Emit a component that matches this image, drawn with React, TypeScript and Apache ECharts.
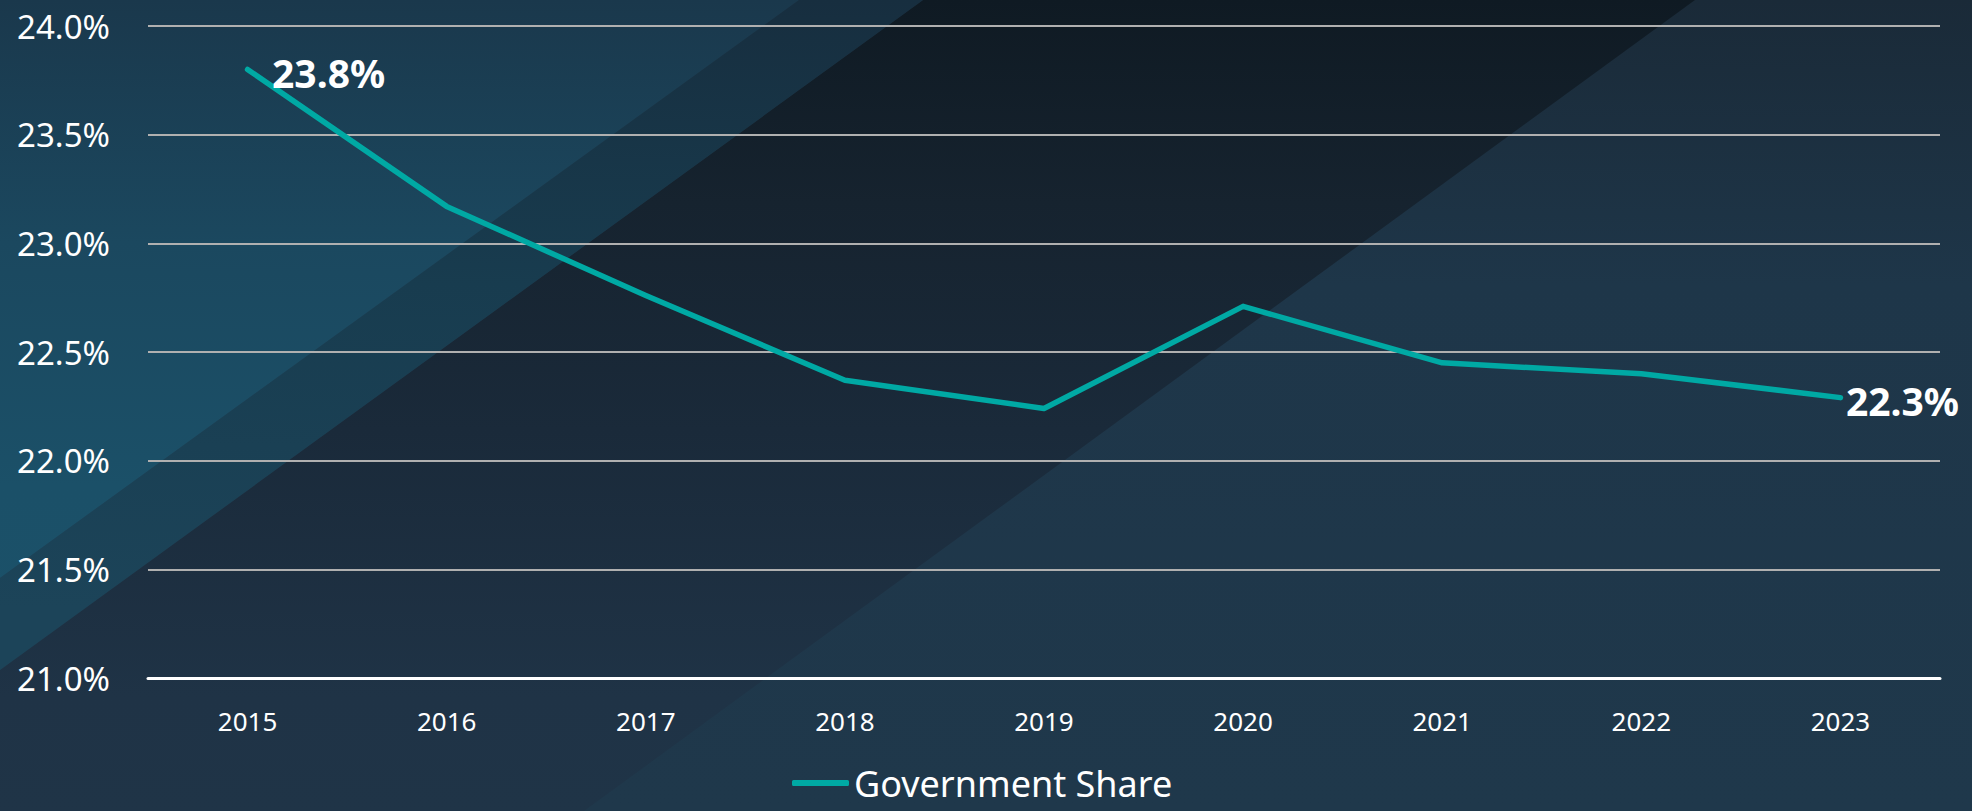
import React, { useEffect, useRef } from "react";
import * as echarts from "echarts";

const categories = ["2015", "2016", "2017", "2018", "2019", "2020", "2021", "2022", "2023"];
const governmentShare = [23.8, 23.17, 22.76, 22.37, 22.24, 22.71, 22.45, 22.4, 22.29];
const seriesName = "Government Share";
const yMin = 21.0;
const yMax = 24.0;
const yInterval = 0.5;

const W = 1972;
const H = 811;
const FONT = "'Noto Sans', 'Open Sans', sans-serif";

function vgrad(stops: [number, string][]) {
  return {
    type: "linear",
    x: 0,
    y: 0,
    x2: 0,
    y2: H,
    global: true,
    colorStops: stops.map(([offset, color]) => ({ offset, color })),
  };
}

export default function App() {
  const ref = useRef<HTMLDivElement>(null);

  useEffect(() => {
    document.body.style.margin = "0";
    const chart = echarts.init(ref.current!, undefined, { renderer: "svg" });
    const last = governmentShare.length - 1;

    const option: any = {
      animation: false,
      backgroundColor: "transparent",
      graphic: {
        elements: [
          {
            type: "rect",
            z: -10,
            silent: true,
            shape: { x: 0, y: 0, width: W, height: H },
            style: { fill: vgrad([[0, "#1a2a38"], [0.35, "#1e3649"], [1, "#1f384b"]]) },
          },
          {
            type: "polygon",
            z: -9,
            silent: true,
            shape: { points: [[923, 0], [1695, 0], [584, H], [0, H], [0, 670]] },
            style: {
              fill: vgrad([
                [0, "#0f1a23"],
                [0.25, "#16232f"],
                [0.53, "#1a2a3a"],
                [0.86, "#1f3346"],
                [1, "#1f3447"],
              ]),
            },
          },
          {
            type: "polygon",
            z: -9,
            silent: true,
            shape: { points: [[799, 0], [923, 0], [0, 670], [0, 578]] },
            style: { fill: vgrad([[0, "#172e3f"], [0.35, "#183c4f"], [0.75, "#1c4459"], [1, "#1c4459"]]) },
          },
          {
            type: "polygon",
            z: -9,
            silent: true,
            shape: { points: [[0, 0], [799, 0], [0, 578]] },
            style: { fill: vgrad([[0, "#1a384c"], [0.3, "#1b485f"], [0.6, "#1b5068"], [1, "#1b526a"]]) },
          },
        ],
      },
      grid: { left: 148, right: 32, top: 26, bottom: 133, containLabel: false },
      legend: {
        data: [{ name: seriesName, icon: "roundRect" }],
        left: 792,
        top: 765,
        padding: 0,
        itemWidth: 57,
        itemHeight: 6,
        textStyle: { color: "#ffffff", fontSize: 36, lineHeight: 36, fontFamily: FONT },
      },
      xAxis: {
        type: "category",
        data: categories,
        boundaryGap: true,
        axisLine: { show: true, lineStyle: { color: "#ffffff", width: 3 } },
        axisTick: { show: false },
        axisLabel: { color: "#ffffff", fontSize: 26, fontFamily: FONT, margin: 30 },
        splitLine: { show: false },
      },
      yAxis: {
        type: "value",
        min: yMin,
        max: yMax,
        interval: yInterval,
        axisLine: { show: false },
        axisTick: { show: false },
        axisLabel: {
          color: "#ffffff",
          fontSize: 33,
          fontFamily: FONT,
          margin: 38,
          formatter: (v: number) => v.toFixed(1) + "%",
        },
        splitLine: { show: true, lineStyle: { color: "#b0b0b0", width: 2 } },
      },
      series: [
        {
          name: seriesName,
          type: "line",
          color: "#00a9a4",
          symbol: "circle",
          symbolSize: 1,
          showSymbol: true,
          lineStyle: { color: "#00a9a4", width: 5.5, cap: "round", join: "round" },
          itemStyle: { color: "#00a9a4" },
          data: governmentShare.map((v, i) => ({
            value: v,
            label: {
              show: i === 0 || i === last,
              position: "right",
              distance: i === 0 ? 24 : 5,
              offset: [0, 3],
              color: "#ffffff",
              fontSize: 39,
              fontWeight: "bold",
              fontFamily: FONT,
              formatter: (p: any) => Number(p.value).toFixed(1) + "%",
            },
          })),
        },
      ],
    };

    chart.setOption(option);
    return () => chart.dispose();
  }, []);

  return <div ref={ref} style={{ width: W, height: H }} />;
}
